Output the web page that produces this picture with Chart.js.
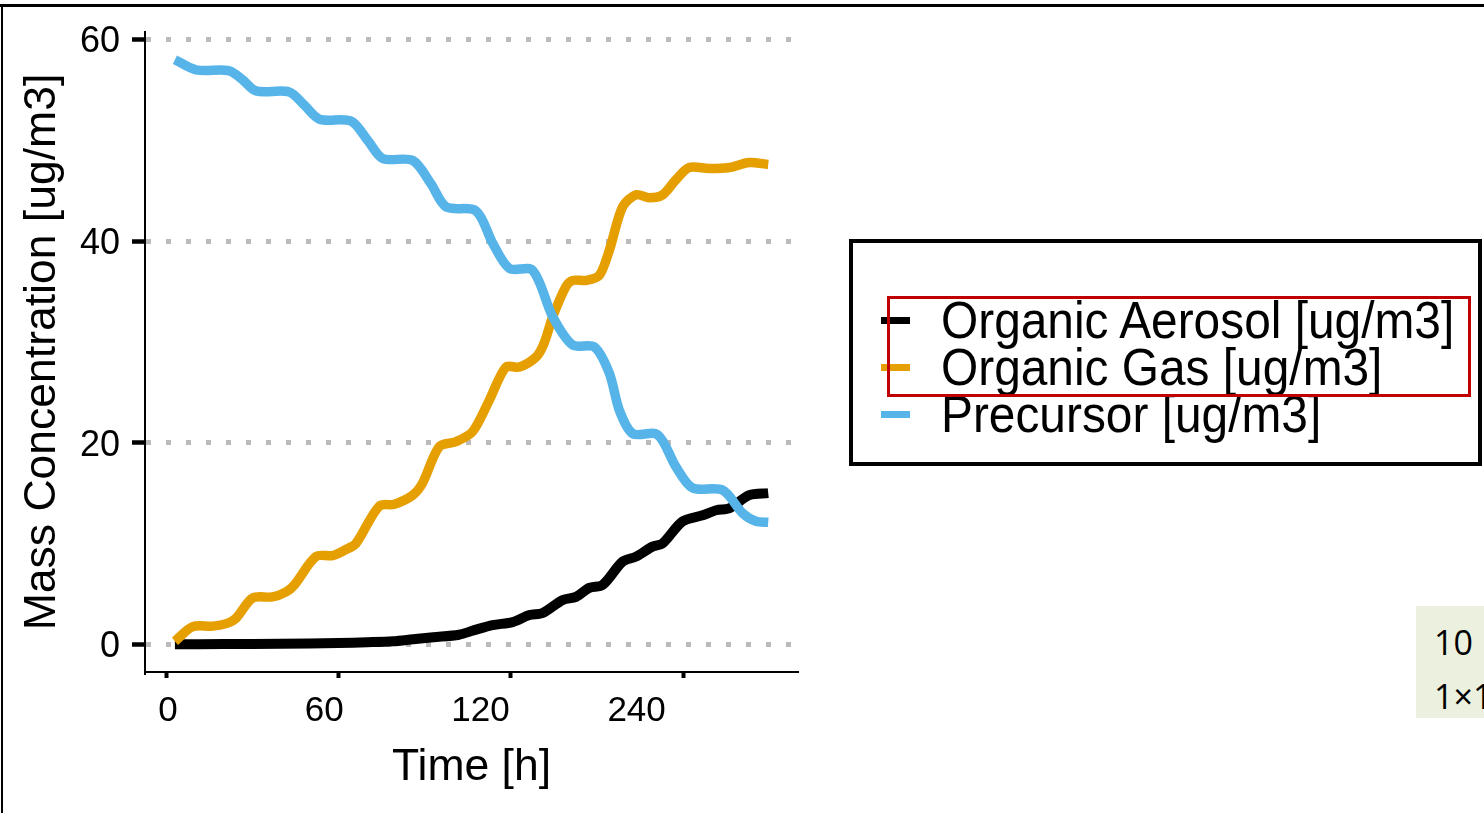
<!DOCTYPE html>
<html>
<head>
<meta charset="utf-8">
<script src="https://cdn.jsdelivr.net/npm/chart.js@4.4.1/dist/chart.umd.min.js"></script>
<style>
  html, body { margin:0; padding:0; background:#fff; width:1484px; height:813px; overflow:hidden; position:relative; font-family:"Liberation Sans", Arial, sans-serif; }
  #wrap { position:absolute; left:0; top:0; width:840px; height:813px; }
  #frameTop { position:absolute; left:0; top:4px; width:1484px; height:3px; background:#000; }
  #frameLeft { position:absolute; left:1px; top:4px; width:2px; height:809px; background:#000; }
  #legend { position:absolute; left:849px; top:239px; width:633px; height:227px; border:4px solid #000; box-sizing:border-box; background:#fff; }
  .row { position:absolute; left:0; width:620px; height:47px; }
  .key { position:absolute; left:28px; top:20px; width:29px; height:7px; }
  .lbl { position:absolute; left:87.5px; top:0; font-size:52px; line-height:47px; white-space:nowrap; color:#000; transform:scaleX(0.92); transform-origin:0 50%; }
  #redbox { position:absolute; left:887px; top:296px; width:584px; height:101px; border:3px solid #C00000; box-sizing:border-box; }
  #note { position:absolute; left:1416px; top:606px; width:90px; height:112px; background:#EBF1DE; }
  #noteText { position:absolute; left:18px; top:9px; font-family:"Open Sans","Noto Sans",sans-serif; font-size:34px; line-height:54px; color:#000; white-space:nowrap; }
</style>
</head>
<body>
<div id="wrap"><canvas id="c" width="840" height="813"></canvas></div>
<div id="frameTop"></div>
<div id="frameLeft"></div>
<div id="legend"></div>
<div id="redbox"></div>
<div id="note"><div id="noteText">10<br>1×1</div></div>
<script>
// ---- data ----
const xTickMarks = [0, 60, 120, 180];
const xTickLabels = ['0', '60', '120', '240'];
const yTicks = [0, 20, 40, 60];
const seriesNames = ['Organic Aerosol [ug/m3]', 'Organic Gas [ug/m3]', 'Precursor [ug/m3]'];

const aerosolTime  = [3.1, 20, 40, 60, 70, 79, 86, 93, 102, 107.3, 113.7, 120.6, 126.5, 131.1, 138.1, 142.7, 147.3, 152.0, 158.9, 163.6, 169.4, 172.8, 179.8, 186.8, 191.5, 196.1, 203.0, 209.6];
const aerosolValue = [0, 0.02, 0.05, 0.12, 0.2, 0.3, 0.5, 0.7, 0.95, 1.4, 1.9, 2.2, 2.9, 3.1, 4.4, 4.7, 5.6, 5.9, 8.2, 8.7, 9.7, 10.0, 12.2, 12.8, 13.3, 13.5, 14.8, 15.0];

const gasTime  = [3.1, 9.3, 16.3, 21.5, 24.4, 30.2, 37.1, 41.8, 44.7, 52.2, 58.0, 62.6, 66.1, 74.2, 79.5, 85.9, 89.3, 95.1, 100.9, 106.7, 112.5, 118.3, 123.0, 128.8, 131.5, 134.6, 139.2, 141.5, 146.2, 150.8, 154.3, 158.9, 163.6, 168.2, 172.9, 177.5, 182.1, 189.1, 196.0, 203.0, 209.6];
const gasValue = [0.3, 1.75, 1.8, 2.1, 2.6, 4.6, 4.7, 5.2, 5.9, 8.7, 8.8, 9.4, 10.0, 13.7, 13.9, 14.8, 16.0, 19.6, 20.1, 21.1, 24.2, 27.5, 27.5, 28.5, 29.8, 32.5, 35.5, 36.1, 36.1, 36.6, 39.1, 43.4, 44.6, 44.3, 44.6, 46.1, 47.3, 47.2, 47.3, 47.8, 47.6];

const precursorTime  = [3.1, 10.4, 22.0, 26.7, 31.3, 42.9, 48.1, 53.4, 64.4, 70.2, 75.4, 85.9, 92.2, 97.5, 107.9, 113.7, 119.5, 127.6, 134.6, 141.5, 149.1, 154.3, 157.8, 162.4, 171.1, 177.5, 183.3, 193.7, 200.7, 205.3, 209.6];
const precursorValue = [58.0, 57.0, 56.9, 56.0, 54.9, 54.8, 53.5, 52.1, 51.9, 50.0, 48.2, 48.0, 45.7, 43.4, 43.0, 39.8, 37.3, 37.1, 32.5, 29.7, 29.5, 26.9, 23.2, 20.9, 20.8, 17.6, 15.5, 15.3, 13.0, 12.2, 12.1];

// ---- chart ----
const FONT = '"Liberation Sans", Arial, sans-serif';
const toPoints = (ts, vs) => ts.map((t, i) => ({ x: t, y: vs[i] }));

const chart = new Chart(document.getElementById('c'), {
  type: 'line',
  data: {
    datasets: [
      { label: seriesNames[0], data: toPoints(aerosolTime, aerosolValue), borderColor: '#000000', backgroundColor: '#000000', borderWidth: 10, order: 2 },
      { label: seriesNames[1], data: toPoints(gasTime, gasValue), borderColor: '#E69F00', backgroundColor: '#E69F00', borderWidth: 9.5, order: 1 },
      { label: seriesNames[2], data: toPoints(precursorTime, precursorValue), borderColor: '#56B4E9', backgroundColor: '#56B4E9', borderWidth: 9.5, order: 0 }
    ]
  },
  options: {
    responsive: false,
    maintainAspectRatio: false,
    animation: false,
    layout: { padding: { left: 0, top: 32, right: 42, bottom: 0 } },
    plugins: { legend: { display: false }, tooltip: { enabled: false } },
    elements: {
      point: { radius: 0 },
      line: { tension: 0.3, borderCapStyle: 'butt', borderJoinStyle: 'round', fill: false }
    },
    scales: {
      x: {
        type: 'linear', position: 'bottom', min: -7.31, max: 219.96, weight: 0,
        afterBuildTicks: s => { s.ticks = xTickMarks.map(v => ({ value: v })); },
        afterFit: s => { s.height = 6; s.paddingLeft = 0; s.paddingRight = 0; },
        ticks: { display: false },
        grid: { drawOnChartArea: false, drawTicks: true, tickLength: 6, tickWidth: 4, tickColor: '#000', color: '#000', tickBorderDash: [] },
        border: { display: true, color: '#000', width: 2 }
      },
      xl: {
        type: 'linear', position: 'bottom', min: -0.1472, max: 4.0333, weight: 1,
        afterBuildTicks: s => { s.ticks = xTickLabels.map((_, i) => ({ value: i })); },
        afterFit: s => { s.height = 135; s.paddingLeft = 0; s.paddingRight = 0; },
        ticks: { callback: (v, i) => xTickLabels[i], font: { family: FONT, size: 35 }, color: '#000', padding: 12, maxRotation: 0, autoSkip: false },
        grid: { display: false, drawTicks: false },
        border: { display: false },
        title: { display: true, text: 'Time [h]', font: { family: FONT, size: 44.5 }, color: '#000', padding: { top: 0, bottom: 19 } }
      },
      y: {
        type: 'linear', position: 'left', min: -2.75, max: 60.75,
        afterBuildTicks: s => { s.ticks = yTicks.map(v => ({ value: v })); },
        afterFit: s => { s.width = 145; s.paddingTop = 0; s.paddingBottom = 0; },
        ticks: { font: { family: FONT, size: 36 }, color: '#000', padding: 12, labelOffset: 3, callback: v => String(v) },
        grid: { color: '#BBBBBB', lineWidth: 5, drawTicks: true, tickLength: 13, tickWidth: 4.5, tickColor: '#000', tickBorderDash: [] },
        border: { display: true, color: '#000', width: 2, dash: [5, 15] },
        title: { display: true, text: 'Mass Concentration [ug/m3]', font: { family: FONT, size: 44.5 }, color: '#000', padding: { top: 16.4, bottom: 0 } }
      }
    }
  }
});

// ---- HTML legend built from the chart's datasets ----
const legend = document.getElementById('legend');
chart.data.datasets.forEach((ds, i) => {
  const row = document.createElement('div');
  row.className = 'row';
  row.style.top = (53.5 + 47 * i) + 'px';
  const key = document.createElement('div');
  key.className = 'key';
  key.style.background = ds.borderColor;
  const lbl = document.createElement('span');
  lbl.className = 'lbl';
  lbl.textContent = ds.label;
  row.appendChild(key);
  row.appendChild(lbl);
  legend.appendChild(row);
});
</script>
</body>
</html>
